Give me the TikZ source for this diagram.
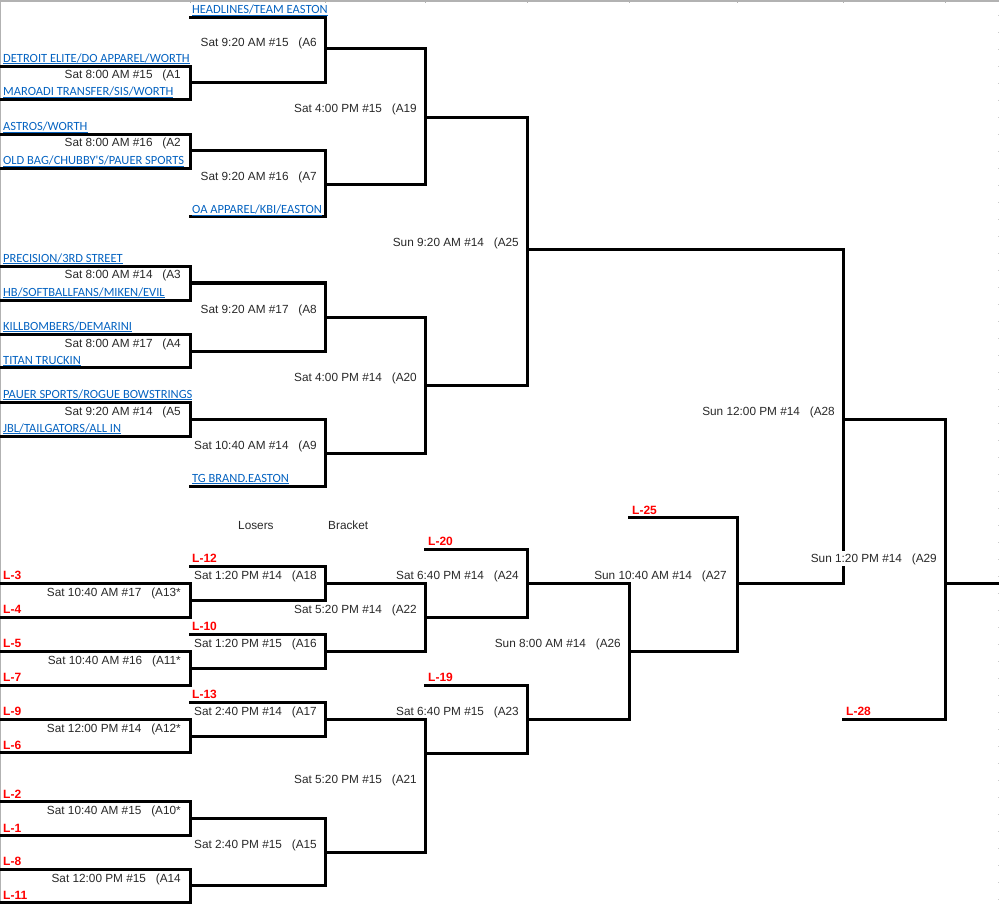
\documentclass[tikz,border=0pt]{standalone}
\usepackage{fontspec}
\setmainfont{Liberation Sans}
\newfontfamily\linkfamily{Carlito}
\usepackage{tikz}

\definecolor{linkblue}{RGB}{5,99,193}
\definecolor{gametext}{RGB}{40,40,40}
\newcommand{\gamefont}{\fontsize{11.8}{13}\selectfont}
\newcommand{\teamfont}{\linkfamily\fontsize{12.5}{14}\selectfont}
\newcommand{\loserfont}{\fontsize{12}{14}\selectfont\bfseries}
\newcommand{\teamlink}[1]{\underline{\smash{#1}}}

\begin{document}
\begin{tikzpicture}[
    x=1pt, y=-1pt,
    bline/.style={line width=3pt, line cap=rect},
    sheetline/.style={draw=gray!60, line width=1.5pt},
    game/.style={anchor=base east, inner sep=0pt, text=gametext, font=\gamefont},
    team/.style={anchor=base west, inner sep=0pt, text=linkblue, font=\teamfont},
    loser/.style={anchor=base west, inner sep=0pt, text=red, font=\loserfont},
    headnote/.style={anchor=base west, inner sep=0pt, text=gametext, font=\gamefont}
]
\useasboundingbox (0,0) rectangle (999,904);

% sheet edges
\draw[sheetline] (0,1) -- (999,1);
\draw[sheetline] (0.7,0) -- (0.7,904);
\draw[sheetline, line width=1pt] (190,0) -- (190,3) (325,0) -- (325,3) (425,0) -- (425,3) (527,0) -- (527,3)
    (629,0) -- (629,3) (737,0) -- (737,3) (843,0) -- (843,3) (945,0) -- (945,3);
\draw[gray!40, line width=1pt, dash pattern=on 1pt off 16pt] (998,15) -- (998,904);

% game outputs
\coordinate (A1) at (190,82.5);
\coordinate (A2) at (190,151);
\coordinate (A3) at (190,283);
\coordinate (A4) at (190,351);
\coordinate (A5) at (190,419.5);
\coordinate (A6) at (325,49);
\coordinate (A7) at (325,185);
\coordinate (A8) at (325,317);
\coordinate (A9) at (325,453);
\coordinate (A19) at (425,117.5);
\coordinate (A20) at (425,385);
\coordinate (A25) at (527,250);
\coordinate (A28) at (843,419);
\coordinate (A13) at (190,600);
\coordinate (A11) at (190,668);
\coordinate (A12) at (190,736);
\coordinate (A10) at (190,818);
\coordinate (A14) at (190,885.5);
\coordinate (A18) at (325,583.5);
\coordinate (A16) at (325,651);
\coordinate (A17) at (325,719);
\coordinate (A15) at (325,852);
\coordinate (A22) at (425,617);
\coordinate (A21) at (425,753);
\coordinate (A24) at (527,583.5);
\coordinate (A23) at (527,719);
\coordinate (A26) at (629,651);
\coordinate (A27) at (737,583);
\coordinate (A29) at (945,583);
\coordinate (champ) at (999,583);

% open slots
\coordinate (s-headlines) at (190,17.5);
\coordinate (s-oa) at (190,217);
\coordinate (s-tg) at (190,486);
\coordinate (s-L12) at (190,566.5);
\coordinate (s-L10) at (190,634.3);
\coordinate (s-L13) at (190,702.3);
\coordinate (s-L20) at (425,549.3);
\coordinate (s-L19) at (425,685);
\coordinate (s-L25) at (629,517.3);
\coordinate (s-L28) at (843,719.3);

% first round boxes
\draw[bline] (1,66.7) -| (A1) |- (1,100);
\draw[bline] (1,134.3) -| (A2) |- (1,168.3);
\draw[bline] (1,266.7) -| (A3) |- (1,300);
\draw[bline] (1,334.3) -| (A4) |- (1,367.7);
\draw[bline] (1,402.7) -| (A5) |- (1,436.5);
\draw[bline] (1,583.3) -| (A13) |- (1,617);
\draw[bline] (1,651) -| (A11) |- (1,685);
\draw[bline] (1,719) -| (A12) |- (1,752.3);
\draw[bline] (1,801) -| (A10) |- (1,835);
\draw[bline] (1,869) -| (A14) |- (1,902.3);

% winners bracket
\draw[bline] (s-headlines) -| (A6) |- (A1);
\draw[bline] (A2) -| (A7) |- (s-oa);
\draw[bline] (A3) -| (A8) |- (A4);
\draw[bline] (A5) -| (A9) |- (s-tg);
\draw[bline] (A6) -| (A19) |- (A7);
\draw[bline] (A8) -| (A20) |- (A9);
\draw[bline] (A19) -| (A25) |- (A20);
\draw[bline] (A25) -| (A28) |- (A27);
\draw[bline] (A28) -| (A29) |- (s-L28);
\draw[bline] (A29) -- (champ);

% losers bracket
\draw[bline] (s-L12) -| (A18) |- (A13);
\draw[bline] (s-L10) -| (A16) |- (A11);
\draw[bline] (s-L13) -| (A17) |- (A12);
\draw[bline] (A10) -| (A15) |- (A14);
\draw[bline] (A18) -| (A22) |- (A16);
\draw[bline] (A17) -| (A21) |- (A15);
\draw[bline] (s-L20) -| (A24) |- (A22);
\draw[bline] (s-L19) -| (A23) |- (A21);
\draw[bline] (A24) -| (A26) |- (A23);
\draw[bline] (s-L25) -| (A27) |- (A26);

% teams
\node[team] (t-headlines) at (192,14) {\teamlink{HEADLINES/TEAM EASTON}};
\node[team] (t-detroit) at (3,62.3) {\teamlink{DETROIT ELITE/DO APPAREL/WORTH}};
\node[team] (t-maroadi) at (3,96) {\teamlink{MAROADI TRANSFER/SIS/WORTH}};
\node[team] (t-astros) at (3,130.5) {\teamlink{ASTROS/WORTH}};
\node[team] (t-oldbag) at (3,164.5) {\teamlink{OLD BAG/CHUBBY\textquotesingle S/PAUER SPORTS}};
\node[team] (t-oa) at (192,214) {\teamlink{OA APPAREL/KBI/EASTON}};
\node[team] (t-precision) at (3,262) {\teamlink{PRECISION/3RD STREET}};
\node[team] (t-hb) at (3,296) {\teamlink{HB/SOFTBALLFANS/MIKEN/EVIL}};
\node[team] (t-killbombers) at (3,330) {\teamlink{KILLBOMBERS/DEMARINI}};
\node[team] (t-titan) at (3,364) {\teamlink{TITAN TRUCKIN}};
\node[team] (t-pauer) at (3,398) {\teamlink{PAUER SPORTS/ROGUE BOWSTRINGS}};
\node[team] (t-jbl) at (3,432) {\teamlink{JBL/TAILGATORS/ALL IN}};
\node[team] (t-tg) at (192,482) {\teamlink{TG BRAND.EASTON}};

% games
\node[game] (g-A6) at (317,46.5) {Sat 9:20 AM \#15~~~(A6};
\node[game] (g-A1) at (181,79) {Sat 8:00 AM \#15~~~(A1};
\node[game] (g-A19) at (417,113) {Sat 4:00 PM \#15~~~(A19};
\node[game] (g-A2) at (181,147) {Sat 8:00 AM \#16~~~(A2};
\node[game] (g-A7) at (317,181) {Sat 9:20 AM \#16~~~(A7};
\node[game] (g-A25) at (519,246.5) {Sun 9:20 AM \#14~~~(A25};
\node[game] (g-A3) at (181,279) {Sat 8:00 AM \#14~~~(A3};
\node[game] (g-A8) at (317,313) {Sat 9:20 AM \#17~~~(A8};
\node[game] (g-A4) at (181,347) {Sat 8:00 AM \#17~~~(A4};
\node[game] (g-A20) at (417,381.5) {Sat 4:00 PM \#14~~~(A20};
\node[game] (g-A5) at (181,415) {Sat 9:20 AM \#14~~~(A5};
\node[game] (g-A9) at (317,449) {Sat 10:40 AM \#14~~~(A9};
\node[game] (g-A28) at (835,415) {Sun 12:00 PM \#14~~~(A28};
\node[game, fill=white, inner ysep=2pt] (g-A29) at (937,562) {Sun 1:20 PM \#14~~~(A29};
\node[game] (g-A18) at (317,579) {Sat 1:20 PM \#14~~~(A18};
\node[game] (g-A24) at (519,579) {Sat 6:40 PM \#14~~~(A24};
\node[game] (g-A27) at (727,579) {Sun 10:40 AM \#14~~~(A27};
\node[game] (g-A13) at (181,596) {Sat 10:40 AM \#17~~~(A13*};
\node[game] (g-A22) at (417,613) {Sat 5:20 PM \#14~~~(A22};
\node[game] (g-A16) at (317,647) {Sat 1:20 PM \#15~~~(A16};
\node[game] (g-A26) at (621,647) {Sun 8:00 AM \#14~~~(A26};
\node[game] (g-A11) at (181,664) {Sat 10:40 AM \#16~~~(A11*};
\node[game] (g-A17) at (317,715) {Sat 2:40 PM \#14~~~(A17};
\node[game] (g-A23) at (519,715) {Sat 6:40 PM \#15~~~(A23};
\node[game] (g-A12) at (181,732) {Sat 12:00 PM \#14~~~(A12*};
\node[game] (g-A21) at (417,783) {Sat 5:20 PM \#15~~~(A21};
\node[game] (g-A10) at (181,814) {Sat 10:40 AM \#15~~~(A10*};
\node[game] (g-A15) at (317,848) {Sat 2:40 PM \#15~~~(A15};
\node[game] (g-A14) at (181,882) {Sat 12:00 PM \#15~~~(A14};

% losers slots
\node[headnote] (losers) at (238,529.5) {Losers};
\node[headnote] (bracket) at (328,529.5) {Bracket};
\node[loser] (l-25) at (632,514) {L-25};
\node[loser] (l-20) at (428,545.5) {L-20};
\node[loser] (l-12) at (192,562) {L-12};
\node[loser] (l-3) at (3,579) {L-3};
\node[loser] (l-4) at (3,613) {L-4};
\node[loser] (l-10) at (192,630) {L-10};
\node[loser] (l-5) at (3,647) {L-5};
\node[loser] (l-7) at (3,681) {L-7};
\node[loser] (l-13) at (192,698) {L-13};
\node[loser] (l-19) at (428,681) {L-19};
\node[loser] (l-9) at (3,715) {L-9};
\node[loser] (l-6) at (3,749) {L-6};
\node[loser] (l-28) at (846,715) {L-28};
\node[loser] (l-2) at (3,798) {L-2};
\node[loser] (l-1) at (3,832) {L-1};
\node[loser] (l-8) at (3,865) {L-8};
\node[loser] (l-11) at (3,899) {L-11};

\end{tikzpicture}
\end{document}
